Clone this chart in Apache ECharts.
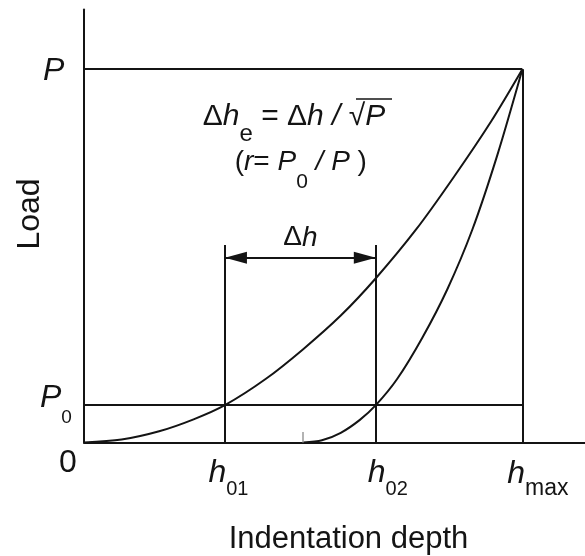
<!DOCTYPE html>
<html><head><meta charset="utf-8">
<script src="https://cdn.jsdelivr.net/npm/echarts@6/dist/echarts.min.js"></script>
<style>html,body{margin:0;padding:0;background:#fff}#c{width:585px;height:556px}</style>
</head><body><div id="c"></div>
<script>
// ---- data ----
const loadingCurve = [[0,0],[0.6,0.008],[1.2,0.03],[1.75,0.062],[2.25,0.1],[2.9,0.17],[3.5,0.25],[4.1,0.34],[4.66,0.44],[5.3,0.57],[5.9,0.71],[6.5,0.86],[7,1]];
const unloadingCurve = [[3.5,0],[3.8,0.006],[4.1,0.026],[4.4,0.06],[4.66,0.1],[5.0,0.17],[5.4,0.28],[5.8,0.41],[6.2,0.57],[6.6,0.77],[7,1]];
const depthMarks = [2.25, 4.66, 7];          // h01, h02, hmax
const depthBase = ['h', 'h', 'h'];
const depthSubs = ['01', '02', 'max'];
const loadMarks = [0.1, 1];                  // P0, P
const loadBase = ['P', 'P'];
const loadSubs = ['0', ''];
const guideTop = 0.529;
const arrowLevel = 0.495;
const residualDepth = 3.5;
const residualTickTop = 0.028;
const xMax = 8, yMax = 1.16;

const ink = '#141414';
const ff = 'Liberation Sans, Arial, sans-serif';
const [h01, h02, hmax] = depthMarks;
const [P0, P] = loadMarks;

const chart = echarts.init(document.getElementById('c'), null, {renderer: 'canvas'});

function near(a, b) { return Math.abs(a - b) < 1e-6; }

const option = {
  animation: false,
  backgroundColor: '#fff',
  grid: {left: 84, right: 0, top: 9.5, bottom: 113.5, containLabel: false, outerBoundsMode: 'none'},
  xAxis: {
    type: 'value', min: 0, max: xMax,
    name: 'Indentation depth', nameLocation: 'middle', nameGap: 81, nameMoveOverlap: false,
    nameTextStyle: {fontSize: 31, fontFamily: ff, color: ink, padding: [0, 0, 0, 28]},
    axisLine: {show: true, onZero: false, lineStyle: {color: ink, width: 2}},
    axisTick: {show: false},
    splitLine: {show: false},
    axisLabel: {
      show: true, margin: 5, color: ink, fontFamily: ff,
      customValues: [0].concat(depthMarks),
      formatter: function (v) {
        for (let i = 0; i < depthMarks.length; i++) {
          if (near(v, depthMarks[i])) {
            const subStyle = depthSubs[i].length > 2 ? 'sm' : 'sd';
            return '{h' + i + '|' + depthBase[i] + '}{' + subStyle + '|' + depthSubs[i] + '}';
          }
        }
        return '{z|0}';
      },
      rich: {
        z: {fontSize: 32, fontFamily: ff, color: ink, padding: [0, 32, 0, 0]},
        h0: {fontSize: 32, fontFamily: ff, fontStyle: 'italic', color: ink, padding: [0, 0, 0, 7]},
        h1: {fontSize: 32, fontFamily: ff, fontStyle: 'italic', color: ink, padding: [0, 0, 0, 24]},
        h2: {fontSize: 32, fontFamily: ff, fontStyle: 'italic', color: ink, padding: [0, 0, 0, 31]},
        sd: {fontSize: 20, fontFamily: ff, color: ink, padding: [32, 0, 0, 0]},
        sm: {fontSize: 23, fontFamily: ff, color: ink, padding: [30, 0, 0, 0]}
      }
    }
  },
  yAxis: {
    type: 'value', min: 0, max: yMax,
    name: 'Load', nameLocation: 'middle', nameGap: 38, nameMoveOverlap: false,
    nameTextStyle: {fontSize: 32, fontFamily: ff, color: ink, padding: [0, 0, 0, 24]},
    axisLine: {show: true, onZero: false, lineStyle: {color: ink, width: 2}},
    axisTick: {show: false},
    splitLine: {show: false},
    axisLabel: {
      show: true, margin: 44, align: 'left', color: ink, fontFamily: ff,
      customValues: loadMarks,
      formatter: function (v) {
        for (let i = 0; i < loadMarks.length; i++) {
          if (near(v, loadMarks[i])) {
            if (loadSubs[i]) return '{pm|' + loadBase[i] + '}{ps|' + loadSubs[i] + '}';
            return '{p|' + loadBase[i] + '}';
          }
        }
        return '';
      },
      rich: {
        p: {fontSize: 32, fontFamily: ff, fontStyle: 'italic', color: ink, padding: [3, 0, 0, 3]},
        pm: {fontSize: 32, fontFamily: ff, fontStyle: 'italic', color: ink, padding: [0, 0, 14, 0]},
        ps: {fontSize: 19, fontFamily: ff, color: ink, padding: [26, 0, 0, 0]}
      }
    }
  },
  series: [
    {
      type: 'line', name: 'Loading', data: loadingCurve, smooth: 0.3,
      showSymbol: false, symbol: 'none', lineStyle: {color: ink, width: 2}, z: 3, silent: true,
      markLine: {
        silent: true, symbol: 'none', animation: false,
        label: {show: false},
        lineStyle: {color: ink, width: 2, type: 'solid'},
        data: [
          [{coord: [0, P]}, {coord: [hmax, P]}],
          [{coord: [0, P0]}, {coord: [hmax, P0]}],
          [{coord: [hmax, 0]}, {coord: [hmax, P]}],
          [{coord: [h01, 0]}, {coord: [h01, guideTop]}],
          [{coord: [h02, 0]}, {coord: [h02, guideTop]}],
          [{coord: [residualDepth, 0], lineStyle: {color: '#9a9a9a', width: 1.5}}, {coord: [residualDepth, residualTickTop]}]
        ]
      }
    },
    {
      type: 'line', name: 'Unloading', data: unloadingCurve, smooth: 0.3,
      showSymbol: false, symbol: 'none', lineStyle: {color: ink, width: 2}, z: 3, silent: true,
      markLine: {
        silent: true, animation: false,
        symbol: ['triangle', 'triangle'], symbolSize: [12, 22],
        symbolOffset: [[0, 11], [0, 11]],
        lineStyle: {color: ink, width: 2, type: 'solid'},
        label: {
          show: true, position: 'middle', distance: 6,
          formatter: '{d|Δ}{i|h}',
          rich: {
            d: {fontSize: 28, fontFamily: ff, color: ink},
            i: {fontSize: 28, fontFamily: ff, fontStyle: 'italic', color: ink}
          }
        },
        data: [
          [{coord: [h01, arrowLevel]}, {coord: [h02, arrowLevel]}]
        ]
      }
    }
  ],
  graphic: [
    {
      type: 'text', x: 294, y: 116.3, silent: true,
      style: {
        text: '{d|Δ}{i|h}{e|e}{n| = Δ}{i|h}{n| }{i|/}{n| √}{i|P}',
        align: 'center', verticalAlign: 'middle',
        rich: {
          d: {fontSize: 30, fontFamily: ff, fill: ink},
          n: {fontSize: 30, fontFamily: ff, fill: ink},
          i: {fontSize: 30, fontFamily: ff, fontStyle: 'italic', fill: ink},
          e: {fontSize: 24, fontFamily: ff, fill: ink, padding: [37, 0, 0, 0]}
        }
      }
    },
    {
      type: 'line', silent: true,
      shape: {x1: 356, y1: 99, x2: 392, y2: 99},
      style: {stroke: ink, lineWidth: 1.6}
    },
    {
      type: 'text', x: 300.8, y: 162.6, silent: true,
      style: {
        text: '{n|(}{i|r}{n|= }{i|P}{s|0}{n| }{i|/}{n| }{i|P}{n| )}',
        align: 'center', verticalAlign: 'middle',
        rich: {
          n: {fontSize: 28, fontFamily: ff, fill: ink},
          i: {fontSize: 28, fontFamily: ff, fontStyle: 'italic', fill: ink},
          s: {fontSize: 21, fontFamily: ff, fill: ink, padding: [40, 0, 0, 0]}
        }
      }
    }
  ]
};
chart.setOption(option);
</script>
</body></html>
